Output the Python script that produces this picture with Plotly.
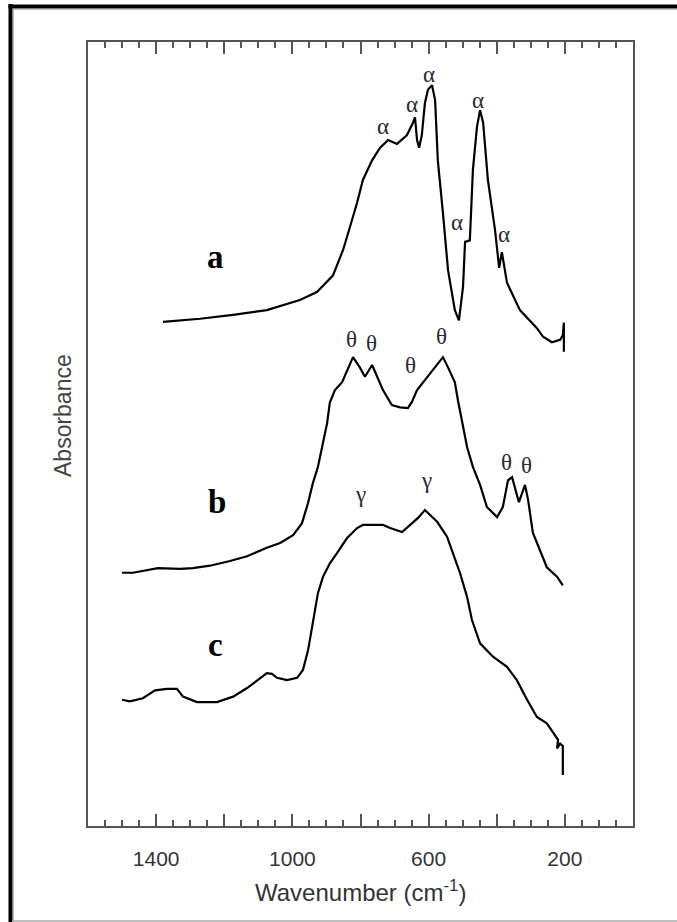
import plotly.graph_objects as go

# ---- data (wavenumber cm^-1, absorbance a.u.) ----
wn_a = [1380, 1271, 1174, 1075, 978, 928, 881, 851, 831, 810, 793, 766, 743, 719, 693, 664, 646, 640,
        634, 628, 620, 611, 602, 590, 581, 573, 558, 543, 523, 511, 499, 493, 479, 470, 458, 449, 440,
        426, 405, 393, 385, 370, 332, 282, 264, 238, 214, 206, 203, 203]
abs_a = [0.643, 0.647, 0.652, 0.658, 0.671, 0.681, 0.702, 0.735, 0.764, 0.795, 0.824, 0.849, 0.865, 0.875,
         0.870, 0.881, 0.897, 0.904, 0.875, 0.865, 0.881, 0.922, 0.939, 0.945, 0.926, 0.849, 0.782, 0.709,
         0.658, 0.645, 0.688, 0.745, 0.747, 0.837, 0.892, 0.913, 0.897, 0.824, 0.760, 0.712, 0.732, 0.693,
         0.658, 0.635, 0.624, 0.617, 0.620, 0.626, 0.642, 0.605]

wn_b = [1500, 1468, 1395, 1330, 1292, 1242, 1183, 1133, 1075, 1036, 998, 972, 954, 940, 925, 913, 898,
        890, 875, 854, 837, 822, 802, 787, 766, 752, 734, 708, 684, 661, 649, 634, 611, 587, 567, 558,
        543, 523, 514, 502, 487, 470, 449, 429, 399, 382, 367, 355, 346, 335, 317, 308, 294, 273, 253,
        223, 206]
abs_b = [0.323, 0.323, 0.329, 0.328, 0.329, 0.332, 0.338, 0.344, 0.355, 0.361, 0.371, 0.386, 0.412, 0.437,
         0.458, 0.483, 0.514, 0.540, 0.556, 0.566, 0.584, 0.598, 0.585, 0.573, 0.588, 0.573, 0.556, 0.537,
         0.534, 0.533, 0.541, 0.556, 0.569, 0.582, 0.594, 0.598, 0.585, 0.566, 0.543, 0.514, 0.483, 0.458,
         0.435, 0.407, 0.394, 0.407, 0.441, 0.445, 0.432, 0.413, 0.435, 0.416, 0.374, 0.352, 0.330, 0.318,
         0.307]

wn_c = [1500, 1477, 1439, 1403, 1368, 1339, 1321, 1280, 1221, 1174, 1133, 1095, 1075, 1060, 1045, 1016,
        986, 969, 954, 942, 934, 925, 910, 890, 869, 840, 810, 793, 734, 713, 678, 655, 631, 611, 602,
        575, 546, 528, 508, 487, 473, 449, 411, 370, 341, 311, 282, 253, 235, 220, 223, 214, 206, 206]
abs_c = [0.161, 0.159, 0.163, 0.173, 0.175, 0.175, 0.165, 0.158, 0.158, 0.165, 0.176, 0.189, 0.195, 0.194,
         0.189, 0.186, 0.189, 0.199, 0.224, 0.254, 0.276, 0.297, 0.318, 0.335, 0.348, 0.367, 0.380, 0.384,
         0.384, 0.380, 0.375, 0.384, 0.393, 0.403, 0.399, 0.388, 0.369, 0.348, 0.323, 0.292, 0.263, 0.233,
         0.216, 0.203, 0.186, 0.161, 0.139, 0.131, 0.119, 0.110, 0.099, 0.105, 0.102, 0.065]

label_ticks = [1400, 1000, 600, 200]
label_text = ["1400", "1000", "600", "200"]
plain_major_ticks = [1200, 800, 400]
all_major_ticks = [1400, 1200, 1000, 800, 600, 400, 200]

# band labels: symbol, wavenumber, absorbance
band_sym = ["α", "α", "α", "α", "α", "α", "θ", "θ", "θ", "θ", "θ", "θ", "γ", "γ"]
band_wn = [734, 649, 599, 455, 517, 379, 825, 769, 652, 561, 370, 314, 801, 605]
band_abs = [0.892, 0.920, 0.959, 0.926, 0.770, 0.754, 0.620, 0.616, 0.587, 0.624, 0.464, 0.460, 0.423, 0.441]

curve_names = ["a", "b", "c"]
curve_label_wn = [1227, 1221, 1227]
curve_label_abs = [0.726, 0.413, 0.231]

# ---- figure ----
W, H = 677, 922
L, R, T, B = 88, 633, 42, 826


def px(x):
    return (x - L) / (R - L)


def py(y):
    return (B - y) / (B - T)


fig = go.Figure()
for wx, ay in [(wn_a, abs_a), (wn_b, abs_b), (wn_c, abs_c)]:
    fig.add_trace(go.Scatter(x=wx, y=ay, mode="lines", line=dict(color="black", width=2.2),
                             showlegend=False, hoverinfo="skip"))

frame_col = "#555555"
tickfont = dict(family="Liberation Sans, Arial", size=21, color="#333333")
minor50 = dict(ticks="inside", ticklen=6, tickwidth=1.5, tickcolor=frame_col,
               tickmode="linear", tick0=0, dtick=50)

fig.update_layout(
    width=W, height=H,
    margin=dict(l=L, r=W - R, t=T, b=H - B),
    paper_bgcolor="white", plot_bgcolor="white",
    xaxis=dict(range=[1600, 0], showgrid=False, zeroline=False, showline=True, mirror=True,
               linecolor=frame_col, linewidth=1.5,
               tickmode="array", tickvals=label_ticks, ticktext=label_text,
               ticks="inside", ticklen=12, tickwidth=1.5, tickcolor=frame_col,
               minor=minor50, tickfont=tickfont, ticklabelstandoff=13),
    xaxis3=dict(range=[1600, 0], overlaying="x", side="bottom", showgrid=False, zeroline=False,
                showline=False, tickmode="array", tickvals=plain_major_ticks, showticklabels=False,
                ticks="inside", ticklen=12, tickwidth=1.5, tickcolor=frame_col),
    xaxis2=dict(range=[1600, 0], overlaying="x", side="top", showgrid=False, zeroline=False,
                showline=False, tickmode="array", tickvals=all_major_ticks, showticklabels=False,
                ticks="inside", ticklen=12, tickwidth=1.5, tickcolor=frame_col, minor=minor50),
    yaxis=dict(range=[0, 1], showgrid=False, zeroline=False, showline=True, mirror=True,
               linecolor=frame_col, linewidth=1.5, ticks="", showticklabels=False),
)
# invisible traces to activate the overlay axes
for ax in ["x2", "x3"]:
    fig.add_trace(go.Scatter(x=[800], y=[0.5], xaxis=ax, mode="markers",
                             marker=dict(opacity=0), showlegend=False, hoverinfo="skip"))

ann = []
for s, x, y in zip(band_sym, band_wn, band_abs):
    ann.append(dict(x=x, y=y, xref="x", yref="y", text=s, showarrow=False,
                    font=dict(family="Liberation Serif, Times New Roman", size=23, color="#2a2a35")))
for s, x, y in zip(curve_names, curve_label_wn, curve_label_abs):
    ann.append(dict(x=x, y=y, xref="x", yref="y", text="<b>" + s + "</b>", showarrow=False,
                    font=dict(family="Liberation Serif, Times New Roman", size=33, color="black")))
ann.append(dict(x=px(63), y=py(416), xref="paper", yref="paper", text="Absorbance", textangle=-90,
                xanchor="center", yanchor="middle", showarrow=False,
                font=dict(family="Liberation Sans, Arial", size=23, color="#444444")))
ann.append(dict(x=px(360), y=py(891), xref="paper", yref="paper", text="Wavenumber (cm<sup>-1</sup>)",
                xanchor="center", yanchor="middle", showarrow=False,
                font=dict(family="Liberation Sans, Arial", size=24, color="#333333")))
fig.update_layout(annotations=ann)

shapes = [
    dict(type="line", xref="paper", yref="paper", x0=px(10.5), x1=px(10.5), y0=py(4), y1=py(922),
         line=dict(color="black", width=4)),
    dict(type="line", xref="paper", yref="paper", x0=px(8.5), x1=px(677), y0=py(6.5), y1=py(6.5),
         line=dict(color="black", width=4)),
    dict(type="line", xref="paper", yref="paper", x0=px(13.5), x1=px(677), y0=py(9.5), y1=py(9.5),
         line=dict(color="#bbbbbb", width=1)),
    dict(type="line", xref="paper", yref="paper", x0=px(13.5), x1=px(13.5), y0=py(9.5), y1=py(922),
         line=dict(color="#bbbbbb", width=1)),
    dict(type="line", xref="paper", yref="paper", x0=px(12), x1=px(677), y0=py(921), y1=py(921),
         line=dict(color="#aaaaaa", width=1.5)),
]
fig.update_layout(shapes=shapes)

fig.write_html("out.html")
